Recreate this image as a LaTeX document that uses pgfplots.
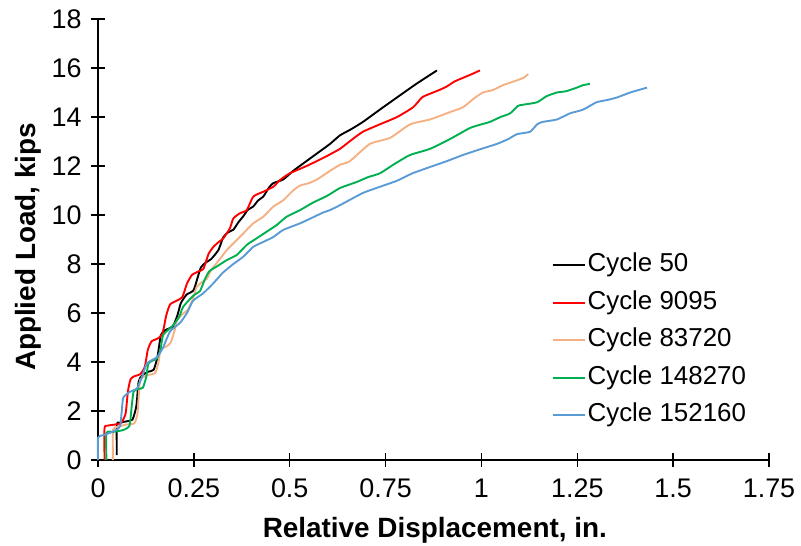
\documentclass[border=0pt]{standalone}
\usepackage{pgfplots}
\pgfplotsset{compat=1.18}
\usepackage{fontspec}
\setmainfont{Liberation Sans}
\definecolor{cblack}{RGB}{0,0,0}
\definecolor{cred}{RGB}{255,0,0}
\definecolor{corange}{RGB}{244,177,131}
\definecolor{cgreen}{RGB}{0,176,80}
\definecolor{cblue}{RGB}{91,155,213}
\begin{document}
\begin{tikzpicture}
\begin{axis}[
  scale only axis, width=671bp, height=441bp,
  xmin=0, xmax=1.75, ymin=0, ymax=18,
  axis lines=left,
  axis line style={-, line width=1.3bp, black},
  xtick={0,0.25,0.5,0.75,1,1.25,1.5,1.75},
  xticklabels={0,0.25,0.5,0.75,1,1.25,1.5,1.75},
  ytick={0,2,4,6,8,10,12,14,16,18},
  tick align=center, major tick length=14bp,
  tick style={line width=1.3bp, black},
  /pgf/number format/assume math mode=true,
  tick label style={font=\fontsize{27}{31}\selectfont},
  xticklabel style={yshift=-8bp},
  yticklabel style={xshift=-6bp},
  xlabel={\textbf{Relative Displacement, in.}},
  ylabel={\textbf{Applied Load, kips}},
  every axis x label/.style={at={(axis description cs:0.502,-0.1587)}, anchor=center, font=\fontsize{28}{32}\selectfont},
  every axis y label/.style={at={(axis description cs:-0.1043,0.483)}, anchor=center, rotate=90, font=\fontsize{28}{32}\selectfont},
  legend cell align=left,
  legend style={at={(axis description cs:0.671,0.479)}, anchor=north west, draw=none, fill=none,
    font=\fontsize{26}{30}\selectfont, row sep=9bp,
    nodes={inner sep=2bp, text height=19bp, text depth=5.5bp}},
  legend image code/.code={\draw[#1, line width=2.2bp] (-4bp,0bp) -- (28bp,0bp);},
  clip=false,
  every axis plot/.append style={line width=1.9bp, smooth, tension=0.35},
]
\coordinate (O) at (rel axis cs:0,0);
\addplot[cblack] coordinates {
(0.049,0.2)(0.049,1.45)(0.055,1.52)(0.075,1.58)(0.09,1.65)(0.100,2.2)(0.106,3.2)(0.115,3.45)(0.13,3.6)(0.145,3.68)(0.155,4.2)(0.164,5.1)(0.175,5.3)(0.195,5.45)(0.207,5.9)(0.216,6.4)(0.231,6.75)(0.249,6.92)(0.259,7.4)(0.268,7.85)(0.28,8.05)(0.295,8.2)(0.314,8.57)(0.327,9.1)(0.34,9.3)(0.353,9.4)(0.366,9.7)(0.379,9.95)(0.39,10.2)(0.405,10.35)(0.418,10.6)(0.431,10.75)(0.445,11.1)(0.457,11.3)(0.483,11.45)(0.509,11.8)(0.535,12.1)(0.57,12.5)(0.605,12.9)(0.631,13.25)(0.66,13.5)(0.691,13.8)(0.735,14.3)(0.780,14.8)(0.83,15.35)(0.884,15.9)
};
\addlegendentry{Cycle 50}
\addplot[cred] coordinates {
(0.017,0)(0.017,1.3)(0.025,1.4)(0.045,1.45)(0.06,1.5)(0.072,1.9)(0.078,2.8)(0.085,3.3)(0.095,3.42)(0.11,3.5)(0.122,3.8)(0.13,4.5)(0.14,4.85)(0.155,4.95)(0.168,5.15)(0.178,5.9)(0.188,6.35)(0.205,6.5)(0.22,6.65)(0.232,7.2)(0.245,7.55)(0.262,7.7)(0.275,7.8)(0.288,8.4)(0.301,8.7)(0.315,8.9)(0.327,9.05)(0.344,9.46)(0.353,9.86)(0.37,10.07)(0.388,10.2)(0.405,10.75)(0.431,10.95)(0.457,11.15)(0.475,11.43)(0.5,11.7)(0.544,12.0)(0.59,12.35)(0.631,12.7)(0.66,13.05)(0.691,13.4)(0.735,13.7)(0.78,14.0)(0.822,14.4)(0.845,14.8)(0.866,14.95)(0.89,15.1)(0.91,15.25)(0.93,15.45)(0.952,15.6)(0.975,15.75)(0.996,15.9)
};
\addlegendentry{Cycle 9095}
\addplot[corange] coordinates {
(0.039,0)(0.039,1.22)(0.05,1.35)(0.075,1.45)(0.095,1.5)(0.103,1.9)(0.107,2.8)(0.11,3.27)(0.125,3.45)(0.149,3.55)(0.158,4.0)(0.163,4.5)(0.18,4.65)(0.19,4.8)(0.2,5.3)(0.206,5.7)(0.22,5.95)(0.235,6.15)(0.248,6.6)(0.257,7.05)(0.27,7.25)(0.284,7.4)(0.295,7.75)(0.31,8.05)(0.325,8.35)(0.336,8.57)(0.353,8.84)(0.379,9.25)(0.405,9.66)(0.431,9.93)(0.457,10.34)(0.483,10.6)(0.509,11.0)(0.527,11.2)(0.55,11.3)(0.571,11.45)(0.605,11.8)(0.631,12.05)(0.657,12.2)(0.709,12.9)(0.762,13.15)(0.814,13.7)(0.866,13.9)(0.918,14.2)(0.952,14.4)(0.98,14.75)(1.004,15.0)(1.03,15.1)(1.056,15.3)(1.075,15.4)(1.093,15.5)(1.11,15.6)(1.122,15.75)
};
\addlegendentry{Cycle 83720}
\addplot[cgreen] coordinates {
(0.022,0)(0.022,1.1)(0.04,1.15)(0.065,1.22)(0.082,1.4)(0.088,2.2)(0.093,2.8)(0.105,2.9)(0.117,2.95)(0.126,3.4)(0.132,3.95)(0.154,4.15)(0.163,4.5)(0.17,5.1)(0.196,5.5)(0.212,5.85)(0.222,6.25)(0.248,6.7)(0.266,6.9)(0.278,7.35)(0.29,7.7)(0.31,7.9)(0.336,8.16)(0.362,8.37)(0.388,8.78)(0.414,9.05)(0.44,9.32)(0.466,9.59)(0.492,9.93)(0.527,10.2)(0.56,10.5)(0.587,10.7)(0.605,10.85)(0.631,11.1)(0.675,11.35)(0.705,11.55)(0.735,11.7)(0.775,12.1)(0.814,12.45)(0.866,12.7)(0.918,13.1)(0.97,13.55)(1.0,13.7)(1.022,13.8)(1.05,14.0)(1.075,14.15)(1.095,14.45)(1.108,14.5)(1.145,14.6)(1.17,14.85)(1.197,15.0)(1.22,15.05)(1.249,15.2)(1.265,15.3)(1.283,15.35)
};
\addlegendentry{Cycle 148270}
\addplot[cblue] coordinates {
(0,0)(0,0.9)(0.01,1.0)(0.03,1.1)(0.05,1.25)(0.058,1.4)(0.062,2.0)(0.066,2.55)(0.083,2.78)(0.102,2.93)(0.115,3.4)(0.128,3.95)(0.154,4.2)(0.17,4.6)(0.188,5.25)(0.214,5.6)(0.232,6.0)(0.248,6.5)(0.274,6.8)(0.3,7.2)(0.326,7.65)(0.353,8.0)(0.379,8.3)(0.405,8.7)(0.431,8.9)(0.457,9.1)(0.483,9.39)(0.527,9.66)(0.56,9.9)(0.587,10.1)(0.605,10.2)(0.631,10.4)(0.691,10.9)(0.735,11.15)(0.78,11.4)(0.82,11.7)(0.866,11.96)(0.91,12.2)(0.952,12.45)(1.0,12.7)(1.04,12.9)(1.07,13.1)(1.093,13.3)(1.127,13.4)(1.145,13.7)(1.16,13.8)(1.197,13.9)(1.231,14.15)(1.265,14.3)(1.3,14.6)(1.33,14.7)(1.354,14.8)(1.388,15.0)(1.41,15.1)(1.432,15.2)
};
\addlegendentry{Cycle 152160}
\end{axis}
\pgfresetboundingbox
\path (O) ++(-98bp,-86bp) rectangle ++(801bp,546bp);
\end{tikzpicture}
\end{document}
